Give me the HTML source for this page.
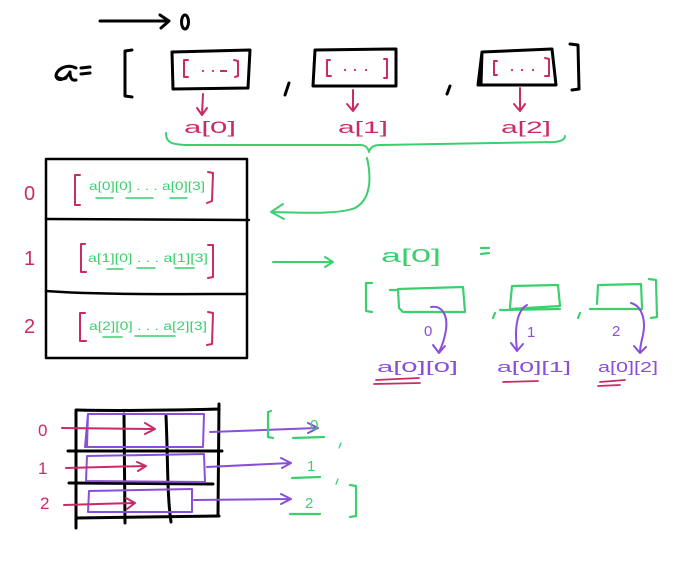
<!DOCTYPE html>
<html><head><meta charset="utf-8"><style>
html,body{margin:0;padding:0;background:#fff;}
svg{display:block;}
text{font-family:"Liberation Sans",sans-serif;}
</style></head><body>
<svg width="682" height="565" viewBox="0 0 682 565" xmlns="http://www.w3.org/2000/svg" fill="none" stroke-linecap="round" stroke-linejoin="round">
<rect x="0" y="0" width="682" height="565" fill="#fff" stroke="none"/>
<!-- top arrow and 0 -->
<g stroke="#000" stroke-width="3">
<path d="M100 21 L168 21"/>
<path d="M160 15 L169 21 L161 28"/>
<ellipse cx="185" cy="22" rx="3.5" ry="7"/>
<!-- a = -->
<path d="M76 68 C66 63 56 70 56 76 C57 82 66 80 70 72 C70 78 72 81 76 80 M66 78 C62 80 58 78 56 76"/>
<path d="M81 68 L90 67 M81 74 L90 73"/>
<!-- big [ -->
<path d="M132 50 L125 51 L125 96 L132 97"/>
<!-- boxes -->
<path d="M172 52 L250 50 L248 88 L173 89 Z"/>
<path d="M315 50 L396 49 L396 86 L313 86 Z"/>
<path d="M482 52 L552 49 L556 85 L478 85 Z M482 52 L481 84"/>
<!-- commas -->
<path d="M289 83 L285 95"/>
<path d="M450 86 L447 94"/>
<!-- ] -->
<path d="M570 44 L578 45 L579 89 L572 90"/>
</g>
<!-- pink inside boxes -->
<g stroke="#cc2a66" stroke-width="2">
<path d="M188 60 L184 60 L184 77 L188 77"/><path d="M234 60 L238 61 L238 76 L235 77"/>
<path d="M330 60 L327 60 L327 76 L331 76"/><path d="M384 59 L387 59 L387 78 L384 78"/>
<path d="M497 61 L494 61 L494 75 L497 75"/><path d="M545 58 L549 59 L549 76 L545 76"/>
<!-- arrows -->
<path d="M203 94 L202 115 M197 108 L202 115 L207 108"/>
<path d="M353 90 L353 111 M347 104 L353 111 L358 104"/>
<path d="M520 88 L520 111 M514 104 L520 111 L525 104"/>
</g>
<g fill="#cc2a66" stroke="none">
<circle cx="203" cy="71" r="1.1"/><circle cx="213" cy="71" r="1.1"/><rect x="220" y="70" width="7" height="2"/>
<circle cx="345" cy="70" r="1.1"/><circle cx="355" cy="70" r="1.1"/><circle cx="366" cy="70" r="1.1"/>
<circle cx="512" cy="70" r="1.1"/><circle cx="522" cy="70" r="1.1"/><circle cx="533" cy="70" r="1.1"/>
</g>
<g fill="#cc2a66" font-size="17">
<text x="184" y="133" textLength="52" lengthAdjust="spacingAndGlyphs">a[0]</text>
<text x="338" y="133" textLength="50" lengthAdjust="spacingAndGlyphs">a[1]</text>
<text x="501" y="133" textLength="50" lengthAdjust="spacingAndGlyphs">a[2]</text>
</g>
<!-- green brace and arrow -->
<g stroke="#3bcf6e" stroke-width="2">
<path d="M166 133 C166 142 170 145 190 145 L360 145 C366 145 368 148 369 152 C370 148 373 145 380 145 L555 142 C562 141 565 139 565 136"/>
<path d="M367 158 C372 180 370 200 355 208 C340 214 310 213 272 212"/>
<path d="M283 204 L271 212 L284 219"/>
<path d="M273 262 L333 262 M325 257 L333 262 L325 267"/>
</g>
<!-- table -->
<g stroke="#000" stroke-width="2.5">
<rect x="46" y="159" width="201" height="199"/>
<path d="M46 219 L249 220"/>
<path d="M46 291 C100 295 180 294 247 294"/>
</g>
<g fill="#cc2a66" font-size="20">
<text x="24" y="200">0</text>
<text x="24" y="265">1</text>
<text x="24" y="333">2</text>
</g>
<g stroke="#cc2a66" stroke-width="2">
<path d="M80 175 L75 175 L75 205 L80 205"/><path d="M208 172 L213 173 L212 201 L207 203"/>
<path d="M85 244 L81 244 L81 272 L86 272"/><path d="M208 245 L213 245 L213 277 L208 278"/>
<path d="M85 313 L80 313 L80 341 L86 341"/><path d="M208 312 L213 313 L212 344 L207 345"/>
</g>
<g fill="#3bcf6e" font-size="12">
<text x="89" y="190" textLength="116" lengthAdjust="spacingAndGlyphs">a[0][0] . . . a[0][3]</text>
<text x="88" y="262" textLength="120" lengthAdjust="spacingAndGlyphs">a[1][0] . . . a[1][3]</text>
<text x="89" y="330" textLength="118" lengthAdjust="spacingAndGlyphs">a[2][0] . . . a[2][3]</text>
</g>
<g stroke="#3bcf6e" stroke-width="1.5">
<path d="M96 198 L113 198 M126 198 L153 198 M170 198 L187 198"/>
<path d="M107 269 L123 269 M137 268 L155 268 M175 268 L194 268"/>
<path d="M103 337 L122 337 M135 336 L175 336"/>
</g>
<!-- right a[0] = -->
<g fill="#3bcf6e" font-size="18">
<text x="381" y="262" textLength="60" lengthAdjust="spacingAndGlyphs">a[0]</text>
</g>
<g stroke="#3bcf6e" stroke-width="2.2">
<path d="M481 248 L489 248 M481 254 L489 253"/>
<path d="M372 283 L366 283 L366 311 L372 312"/>
<path d="M398 289 L463 287 L465 312 L403 312 L399 308 L398 289 M390 290 L396 290"/>
<path d="M512 286 L558 285 L560 306 L510 309 M512 286 L510 307 M500 310 L560 309"/>
<path d="M600 285 L641 284 L642 307 M598 285 L597 304 M590 309 L642 309"/>
<path d="M649 279 L656 280 L657 317 L651 318"/>
<path d="M495 313 L493 318"/>
<path d="M580 313 L578 318"/>
</g>
<!-- purple curved arrows -->
<g stroke="#8a4fd8" stroke-width="2">
<path d="M431 307 C442 305 448 315 446 330 C444 342 441 348 439 352"/>
<path d="M433 345 L439 353 L445 346"/>
<path d="M527 305 C518 310 514 325 517 350"/>
<path d="M511 343 L517 351 L523 344"/>
<path d="M631 303 C642 306 646 320 643 335 C641 343 640 347 640 352"/>
<path d="M634 346 L640 353 L646 347"/>
</g>
<g fill="#8a4fd8" font-size="15">
<text x="424" y="336">0</text>
<text x="527" y="337">1</text>
<text x="612" y="336">2</text>
</g>
<g fill="#8a4fd8" font-size="15">
<text x="377" y="372" textLength="81" lengthAdjust="spacingAndGlyphs">a[0][0]</text>
<text x="497" y="372" textLength="74" lengthAdjust="spacingAndGlyphs">a[0][1]</text>
<text x="598" y="372" textLength="60" lengthAdjust="spacingAndGlyphs">a[0][2]</text>
</g>
<g stroke="#cc2a66" stroke-width="1.8">
<path d="M376 380 L419 378 M374 384 L420 383"/>
<path d="M503 382 L538 381"/>
<path d="M600 382 L625 380 M598 386 L620 385"/>
</g>
<!-- bottom grid -->
<g stroke="#000" stroke-width="3">
<path d="M77 410 C120 411 180 410 219 409"/>
<path d="M76 410 L76 528"/>
<path d="M219 404 L218 514"/>
<path d="M76 518 L219 516"/>
<path d="M124 414 L125 523"/>
<path d="M166 416 C168 460 167 495 171 522"/>
<path d="M68 451 L222 451"/>
<path d="M69 483 L213 484"/>
</g>
<g stroke="#8a4fd8" stroke-width="2">
<path d="M88 414 L204 414 L203 447 L85 447 Z M88 414 L87 446"/>
<path d="M87 456 L204 454 L205 482 L86 481 Z"/>
<path d="M89 491 L192 489 L192 512 L88 512 Z"/>
<path d="M210 432 L317 428 M308 423 L318 428 L308 433"/>
<path d="M207 467 L290 463 M281 458 L291 463 L282 468"/>
<path d="M194 500 L290 499 M281 494 L291 499 L281 504"/>
</g>
<g fill="#cc2a66" font-size="17">
<text x="38" y="436">0</text>
<text x="38" y="474">1</text>
<text x="40" y="509">2</text>
</g>
<g stroke="#cc2a66" stroke-width="2">
<path d="M62 428 L154 429 M145 423 L155 429 L145 434"/>
<path d="M66 468 L145 466 M137 462 L146 466 L138 471"/>
<path d="M64 505 L134 503 M126 498 L135 503 L127 509"/>
</g>
<g stroke="#3bcf6e" stroke-width="2.2">
<path d="M271 411 L268 412 L268 437 L273 438"/>
<path d="M293 438 L324 437"/>
<path d="M292 478 L320 477"/>
<path d="M290 514 L320 514"/>
<path d="M350 485 L356 486 L356 516 L350 517"/>
</g>
<g fill="#3bcf6e" font-size="15">
<text x="310" y="430">0</text>
<text x="307" y="471">1</text>
<text x="305" y="508">2</text>
</g>
<g stroke="#3bcf6e" stroke-width="1.3">
<path d="M341 443 L339 448"/><path d="M338 479 L336 484"/>
</g>
</svg>
</body></html>
